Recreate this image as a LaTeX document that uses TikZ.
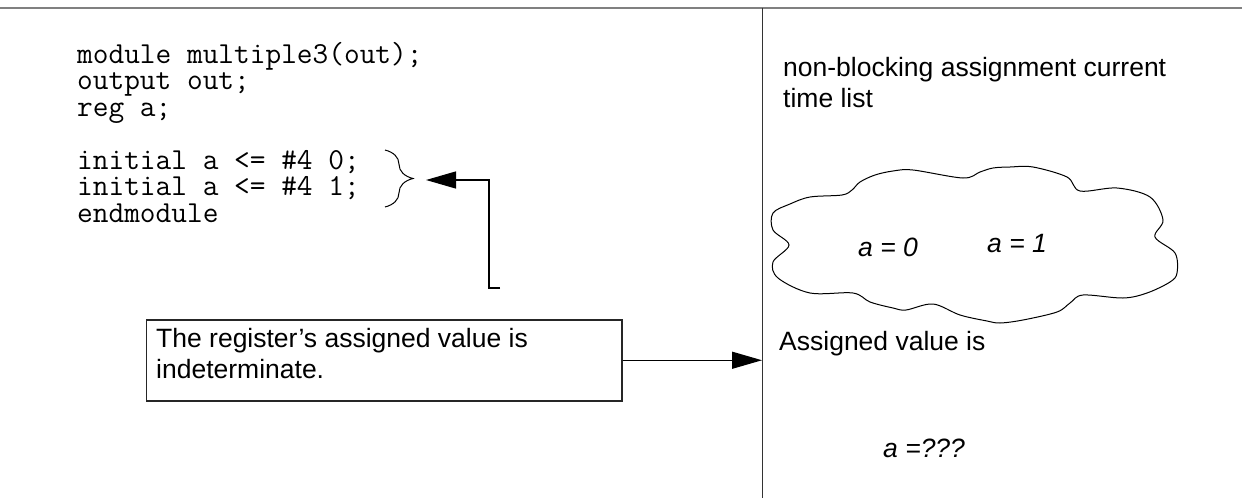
\documentclass[tikz,border=0pt]{standalone}
\usepackage{fontspec}
\setmainfont{Liberation Sans}
\usetikzlibrary{arrows.meta,decorations.pathreplacing}

% typewriter text uses the default Latin Modern Mono (0.525em advance)
\newcommand\codesize{\fontsize{30.48}{26.5}\selectfont}
\newcommand\textsz{\fontsize{26.5}{31}\selectfont}

\begin{document}
\begin{tikzpicture}[x=1pt,y=-1pt,
  codeline/.style={font=\ttfamily\codesize, anchor=base west, inner sep=0pt,
                   text height=18pt, text depth=5pt},
  plain/.style={font=\textsz, anchor=base west, inner sep=0pt},
  value/.style={font=\textsz\itshape, anchor=base west, inner sep=0pt},
  notebox/.style={draw=black!85, line width=1.5pt, inner sep=0pt},
  conn/.style={line width=1.3pt, -{Triangle[length=30pt,width=17pt]}},
  cloudline/.style={line width=1pt},
  rule/.style={draw=black!50, line width=2pt},
  divider/.style={draw=black!80, line width=1pt}]
\useasboundingbox (0,0) rectangle (1242,498);

% frame lines
\coordinate (ruleL) at (0,7.5);
\coordinate (ruleR) at (1242,7.5);
\coordinate (divtop) at (762,7.5);
\coordinate (divbot) at (762,498);
\draw[rule] (ruleL) -- (ruleR);
\draw[divider] (divtop) -- (divbot);

% Verilog source
\node[codeline] (c1) at (77,63)    {module multiple3(out);};
\node[codeline] (c2) at (77,89.5)  {output out;};
\node[codeline] (c3) at (77,116)   {reg a;};
\node[codeline] (c4) at (77,169)   {initial a <= \#4 0;};
\node[codeline] (c5) at (77,195.5) {initial a <= \#4 1;};
\node[codeline] (c6) at (77,222)   {endmodule};

% brace grouping the two initial statements
\draw[line width=1pt, decorate, decoration={brace, amplitude=28pt}] (385,150) -- (385,207);
\coordinate (brtip) at (413,180);
\coordinate (lfoot) at (500,288);
\draw[conn] (lfoot) -- ++(-11,0) |- ([xshift=13pt]brtip);

% explanation box (multi-line nodes sit on the baseline of their last line)
\node[notebox, anchor=north west, minimum width=475.5pt, minimum height=81pt] (note) at (145.5,319) {};
\node[plain, align=left] (notetext) at (156,378) {The register’s assigned value is\\indeterminate.};
\draw[conn] (note.east) -- (note.east -| divtop);

% right column
\node[plain, align=left] (listtitle) at (783,107) {non-blocking assignment current\\time list};

\draw[cloudline] plot[smooth cycle, tension=0.55] coordinates {
  (773,213) (790,204) (810,197) (842,195) (852,190) (860,182) (875,175)
  (893,171) (913,170) (963,178) (980,172) (993,168) (1010,167) (1033,167)
  (1067,177) (1080,191) (1117,188) (1150,197) (1163,220) (1155,237)
  (1175,253) (1177,273) (1170,282) (1147,293) (1123,298) (1083,295)
  (1070,303) (1057,312) (1023,320) (1000,323) (987,321) (960,315)
  (933,304) (906,310) (893,308) (870,302) (853,293) (810,293) (778,278)
  (773,262) (789,245) (773,230)};
\node[value] (v0) at (858,256) {a = 0};
\node[value] (v1) at (987,252) {a = 1};

\node[plain] (assigned) at (779,350) {Assigned value is};
\node[value] (unknown) at (883,457) {a =???};
\end{tikzpicture}
\end{document}
